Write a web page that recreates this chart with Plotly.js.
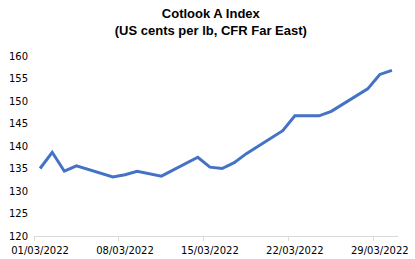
<!DOCTYPE html>
<html>
<head>
<meta charset="utf-8">
<script src="https://cdn.plot.ly/plotly-3.0.1.min.js"></script>
<style>html,body{margin:0;padding:0;background:#fff;}#chart{width:415px;height:259px;}</style>
</head>
<body>
<div id="chart"></div>
<script>
const dates = ['2022-03-01','2022-03-02','2022-03-03','2022-03-04','2022-03-07','2022-03-08','2022-03-09','2022-03-10','2022-03-11','2022-03-14','2022-03-15','2022-03-16','2022-03-17','2022-03-18','2022-03-21','2022-03-22','2022-03-23','2022-03-24','2022-03-25','2022-03-28','2022-03-29','2022-03-30'];
const values = [135.0,138.6,134.4,135.6,133.1,133.6,134.4,133.9,133.3,137.5,135.3,135.0,136.3,138.3,143.4,146.7,146.7,146.7,147.7,152.7,155.9,156.8];
const tickDates = ['2022-03-01','2022-03-08','2022-03-15','2022-03-22','2022-03-29'];
const tickLabels = ['01/03/2022','08/03/2022','15/03/2022','22/03/2022','29/03/2022'];
const yTicks = [120,125,130,135,140,145,150,155,160];

// Points and labels are centred in their day slot; tick marks sit on slot boundaries
const xs = dates.map(d => d + ' 12:00');
const labelPos = tickDates.map(d => d + ' 12:00');

Plotly.newPlot('chart', [{
  x: xs, y: values, type: 'scatter', mode: 'lines',
  line: {color: '#4472C4', width: 3}, hoverinfo: 'skip'
}], {
  width: 415, height: 259,
  margin: {l: 34, r: 17, t: 56, b: 23},
  paper_bgcolor: '#fff', plot_bgcolor: '#fff',
  showlegend: false,
  title: {
    text: '<b>Cotlook A Index</b><br><b>(US cents per lb, CFR Far East)</b>',
    font: {family: 'Liberation Sans, Arial', size: 13, color: '#000'},
    x: 0.508, xanchor: 'center', y: 0.93, yanchor: 'top'
  },
  xaxis: {
    type: 'date', range: ['2022-03-01', '2022-03-31'],
    tickvals: labelPos, ticktext: tickLabels,
    showgrid: false, zeroline: false,
    showline: true, linecolor: '#d9d9d9', linewidth: 1,
    ticks: '', ticklabelstandoff: 5,
    minor: {tickvals: tickDates, ticks: 'outside', ticklen: 4, tickcolor: '#d9d9d9', showgrid: false},
    tickfont: {family: 'DejaVu Sans', size: 10, color: '#000'}
  },
  yaxis: {
    range: [120, 160], tickvals: yTicks,
    showgrid: false, zeroline: false, showline: false,
    ticks: '', ticklabelstandoff: 5,
    tickfont: {family: 'DejaVu Sans', size: 10, color: '#000'}
  }
}, {staticPlot: true});
</script>
</body>
</html>
